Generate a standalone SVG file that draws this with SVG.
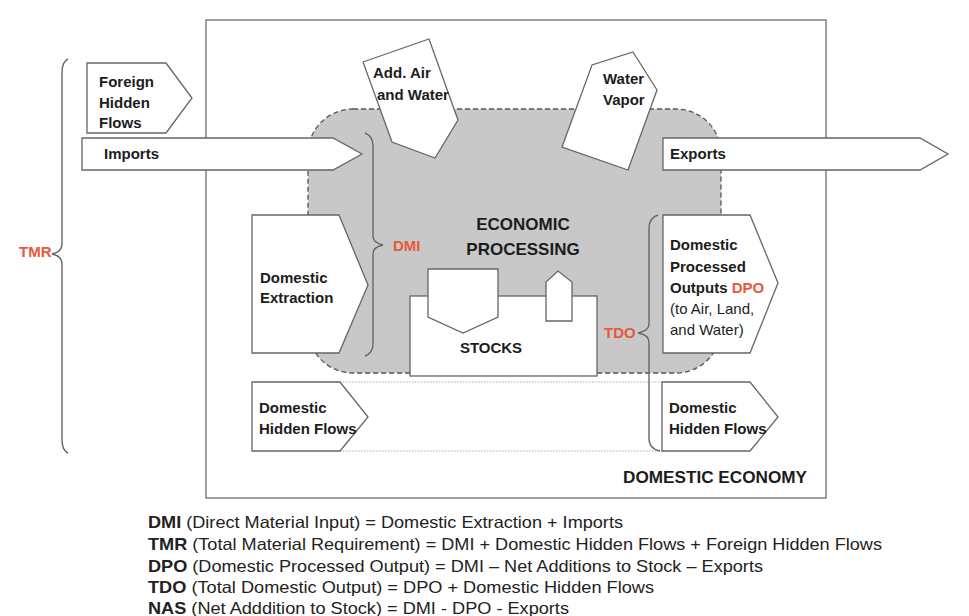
<svg xmlns="http://www.w3.org/2000/svg" width="969" height="616" viewBox="0 0 969 616">
  <style>
    .box { fill: #ffffff; stroke: #666666; stroke-width: 1.3; }
    .lbl { font-family: "Liberation Sans", Arial, sans-serif; font-size: 15px; font-weight: bold; fill: #1c1c1c; }
    .reg { font-weight: normal; }
    .red { font-family: "Liberation Sans", Arial, sans-serif; font-size: 15px; font-weight: bold; fill: #e8583a; }
    .cap { font-family: "Liberation Sans", Arial, sans-serif; font-size: 17px; font-weight: bold; fill: #1c1c1c; }
    .brace { fill: none; stroke: #666666; stroke-width: 1.4; }
    .legend { font-family: "Liberation Sans", Arial, sans-serif; font-size: 16.5px; fill: #222222; }
    .legend tspan.b { font-weight: bold; }
  </style>

  <rect width="969" height="616" fill="#ffffff"/>

  <!-- domestic economy boundary -->
  <g id="domestic-economy">
    <rect x="206" y="20" width="620" height="478" fill="none" stroke="#777777" stroke-width="1.4"/>
    <text class="cap" x="623" y="483" textLength="184" lengthAdjust="spacingAndGlyphs">DOMESTIC ECONOMY</text>
  </g>

  <!-- economic processing zone -->
  <g id="economic-processing">
    <rect x="308" y="109" width="413" height="264" rx="45" ry="45" fill="#c8c8c8" stroke="#555555" stroke-width="1.3" stroke-dasharray="5 3"/>
    <text class="cap" x="523" y="230" text-anchor="middle">ECONOMIC</text>
    <text class="cap" x="523" y="255" text-anchor="middle">PROCESSING</text>
  </g>

  <!-- hidden flows band -->
  <g id="hidden-flow-band" stroke="#aaaaaa" stroke-width="1" stroke-dasharray="1.5 1.5" fill="none">
    <line x1="340" y1="382" x2="662" y2="382"/>
    <line x1="340" y1="451" x2="662" y2="451"/>
  </g>

  <!-- braces -->
  <g id="connectors">
    <path class="brace" d="M68,59 Q62,62 62,72 L62,244 Q62,252 52,254 Q62,256 62,264 L62,440 Q62,450 68,453"/>
    <path class="brace" d="M365,133 Q373,136 373,146 L373,236 Q373,243 383,245 Q373,247 373,254 L373,344 Q373,353 365,356"/>
    <path class="brace" d="M658,215 Q649,218 649,228 L649,324 Q649,331 638,333 Q649,335 649,342 L649,438 Q649,449 660,451"/>
  </g>

  <g id="tmr-label"><text class="red" x="19" y="257">TMR</text></g>
  <g id="dmi-label"><text class="red" x="393" y="251">DMI</text></g>
  <g id="tdo-label"><text class="red" x="604" y="338">TDO</text></g>

  <g id="foreign-hidden-flows">
    <polygon class="box" points="87,63 166,63 192,98 166,133 87,133"/>
    <text class="lbl" x="99" y="87">Foreign</text>
    <text class="lbl" x="99" y="108">Hidden</text>
    <text class="lbl" x="99" y="128">Flows</text>
  </g>

  <g id="imports">
    <polygon class="box" points="82,138 333,138 362,154 333,170 82,170"/>
    <text class="lbl" x="104" y="159">Imports</text>
  </g>

  <g id="exports">
    <polygon class="box" points="663,138 920,138 948,154 920,170 663,170"/>
    <text class="lbl" x="670" y="159">Exports</text>
  </g>

  <g id="add-air-water">
    <polygon class="box" points="363,62 429,39 458,120 435,158 392,142"/>
    <text class="lbl" x="373" y="78">Add. Air</text>
    <text class="lbl" x="377" y="100">and Water</text>
  </g>

  <g id="water-vapor">
    <polygon class="box" points="633,52 657,90 628,170 562,147 592,65"/>
    <text class="lbl" x="603" y="84">Water</text>
    <text class="lbl" x="603" y="105">Vapor</text>
  </g>

  <g id="domestic-extraction">
    <polygon class="box" points="252,215 339,215 368,285 339,353 252,353"/>
    <text class="lbl" x="260" y="283">Domestic</text>
    <text class="lbl" x="260" y="303">Extraction</text>
  </g>

  <g id="stocks">
    <rect class="box" x="410" y="296" width="187" height="80"/>
    <polygon class="box" points="428,269 498,269 498,317 463,333 428,317"/>
    <polygon class="box" points="546,321 546,282 558,271 572,282 572,321"/>
    <text class="lbl" x="491" y="353" text-anchor="middle">STOCKS</text>
  </g>

  <g id="domestic-processed-outputs">
    <polygon class="box" points="663,215 750,215 778,283 750,353 663,353"/>
    <text class="lbl" x="670" y="250">Domestic</text>
    <text class="lbl" x="670" y="272">Processed</text>
    <text class="lbl" x="670" y="293">Outputs <tspan fill="#e8583a">DPO</tspan></text>
    <text class="lbl reg" x="670" y="314">(to Air, Land,</text>
    <text class="lbl reg" x="670" y="335">and Water)</text>
  </g>

  <g id="domestic-hidden-flows-in">
    <polygon class="box" points="252,382 340,382 368,417 340,451 252,451"/>
    <text class="lbl" x="259" y="413">Domestic</text>
    <text class="lbl" x="259" y="434">Hidden Flows</text>
  </g>

  <g id="domestic-hidden-flows-out">
    <polygon class="box" points="662,382 750,382 778,417 750,451 662,451"/>
    <text class="lbl" x="669" y="413">Domestic</text>
    <text class="lbl" x="669" y="434">Hidden Flows</text>
  </g>

  <!-- definitions -->
  <g id="legend">
    <text class="legend" x="148" y="528" textLength="475" lengthAdjust="spacingAndGlyphs"><tspan class="b">DMI</tspan> (Direct Material Input) = Domestic Extraction + Imports</text>
    <text class="legend" x="148" y="550" textLength="734" lengthAdjust="spacingAndGlyphs"><tspan class="b">TMR</tspan> (Total Material Requirement) = DMI + Domestic Hidden Flows + Foreign Hidden Flows</text>
    <text class="legend" x="148" y="572" textLength="615" lengthAdjust="spacingAndGlyphs"><tspan class="b">DPO</tspan> (Domestic Processed Output) = DMI – Net Additions to Stock – Exports</text>
    <text class="legend" x="148" y="593" textLength="506" lengthAdjust="spacingAndGlyphs"><tspan class="b">TDO</tspan> (Total Domestic Output) = DPO + Domestic Hidden Flows</text>
    <text class="legend" x="148" y="614" textLength="421" lengthAdjust="spacingAndGlyphs"><tspan class="b">NAS</tspan> (Net Adddition to Stock) = DMI - DPO - Exports</text>
  </g>
</svg>
